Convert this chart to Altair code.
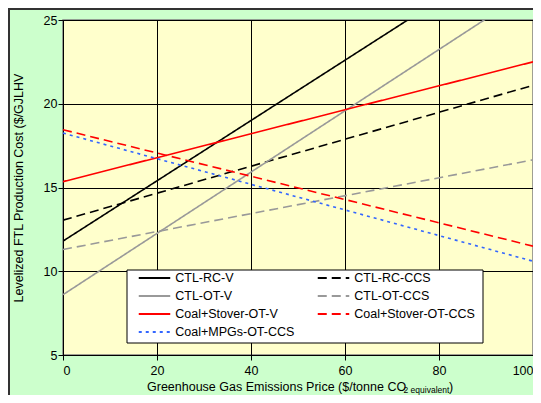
import altair as alt
import pandas as pd

# ---- data ----
series = ["CTL-RC-V", "CTL-RC-CCS", "CTL-OT-V", "CTL-OT-CCS",
          "Coal+Stover-OT-V", "Coal+Stover-OT-CCS", "Coal+MPGs-OT-CCS"]
price = [0, 100]
cost_at_0 = [11.8, 13.05, 8.6, 11.3, 15.35, 18.45, 18.25]
cost_at_100 = [29.8, 21.1, 26.9, 16.65, 22.5, 11.5, 10.6]
colors = ["#000000", "#000000", "#999999", "#999999", "#FF0000", "#FF0000", "#3366FF"]
dashes = [[1, 0], [9, 5], [1, 0], [9, 5], [1, 0], [9, 5], [3, 4]]
x_ticks = [0, 20, 40, 60, 80, 100]
y_ticks = [5, 10, 15, 20, 25]
# legend fills column by column (4 rows x 2 columns)
legend_order = ["CTL-RC-V", "CTL-OT-V", "Coal+Stover-OT-V", "Coal+MPGs-OT-CCS",
                "CTL-RC-CCS", "CTL-OT-CCS", "Coal+Stover-OT-CCS"]

FONT = "Liberation Sans, Arial"

rows = []
for s, a, b in zip(series, cost_at_0, cost_at_100):
    rows.append({"series": s, "price": price[0], "cost": a})
    rows.append({"series": s, "price": price[1], "cost": b})
df = pd.DataFrame(rows)

color_of = dict(zip(series, colors))
dash_of = dict(zip(series, dashes))

leg = alt.Legend(
    title=None, orient="none", legendX=80, legendY=246.5, columns=2,
    symbolType="M-1.5,0H1.5", symbolSize=441, symbolStrokeWidth=2,
    symbolFillColor="transparent",
    labelFont=FONT, labelFontSize=12.5, labelColor="#000000", labelOffset=9.25,
    columnPadding=18, rowPadding=0, padding=0,
)

lines = alt.Chart(df).mark_line(strokeWidth=1.6, clip=True).encode(
    x=alt.X("price:Q", scale=alt.Scale(domain=[0, 100], nice=False),
            axis=alt.Axis(values=x_ticks, title=None, labelPadding=4)),
    y=alt.Y("cost:Q", scale=alt.Scale(domain=[5, 25], nice=False),
            axis=alt.Axis(values=y_ticks, title="Levelized FTL Production Cost ($/GJLHV",
                          titleX=-45, titleY=167.5, titleAngle=-90, titleAlign="center",
                          titleBaseline="middle", labelPadding=1)),
    color=alt.Color("series:N",
                    scale=alt.Scale(domain=legend_order, range=[color_of[s] for s in legend_order]),
                    legend=leg),
    strokeDash=alt.StrokeDash("series:N",
                              scale=alt.Scale(domain=legend_order, range=[dash_of[s] for s in legend_order]),
                              legend=leg),
)

one = pd.DataFrame({"k": [0]})

box = alt.Chart(one).mark_rect(
    fill="#FFFFFF", stroke="#000000", strokeWidth=1
).encode(x=alt.value(64), x2=alt.value(420), y=alt.value(250), y2=alt.value(323))

frame_top = alt.Chart(one).mark_rule(color="#333333", strokeWidth=2, clip=False).encode(
    x=alt.value(-55), x2=alt.value(470), y=alt.value(-11))
frame_left = alt.Chart(one).mark_rule(color="#333333", strokeWidth=2, clip=False).encode(
    x=alt.value(-54), y=alt.value(-12), y2=alt.value(375))

t_main = alt.Chart(pd.DataFrame({"t": ["Greenhouse Gas Emissions Price ($/tonne CO"]})).mark_text(
    font=FONT, fontSize=12.5, align="left", baseline="alphabetic", color="#000000"
).encode(text="t:N", x=alt.value(84), y=alt.value(371))
t_sub = alt.Chart(pd.DataFrame({"t": ["2 equivalent"]})).mark_text(
    font=FONT, fontSize=8.5, align="left", baseline="alphabetic", color="#000000"
).encode(text="t:N", x=alt.value(340.5), y=alt.value(373))
t_end = alt.Chart(pd.DataFrame({"t": [")"]})).mark_text(
    font=FONT, fontSize=12.5, align="left", baseline="alphabetic", color="#000000"
).encode(text="t:N", x=alt.value(386), y=alt.value(371))

chart = alt.layer(lines, box, frame_top, frame_left, t_main, t_sub, t_end).properties(
    width=470, height=335,
    autosize=alt.AutoSizeParams(type="none"),
    padding={"left": 55, "top": 12, "right": 0, "bottom": 40},
    background="#CCFFCC",
).configure_view(
    stroke="#808080", fill="#FFFFCC", strokeWidth=1.5
).configure_axis(
    domainColor="#000000", domainWidth=1, tickColor="#000000", tickSize=5,
    gridColor="#000000", gridWidth=1, gridOpacity=1,
    labelFont=FONT, labelFontSize=12.5, labelColor="#000000",
    titleFont=FONT, titleFontSize=12.5, titleFontWeight="normal", titleColor="#000000",
)

chart.save("out.html", embed_options={"renderer": "svg", "actions": False})
